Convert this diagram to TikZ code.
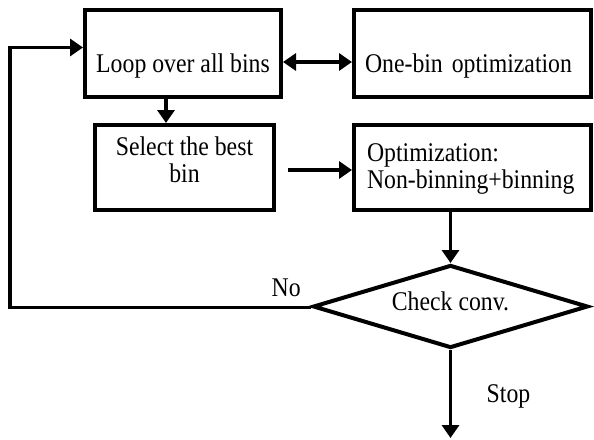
\documentclass[tikz,border=0pt]{standalone}
\usepackage{fontspec}
\setmainfont{Liberation Serif}[FakeStretch=0.88]
\usetikzlibrary{arrows.meta,shapes.geometric}
\begin{document}
\begin{tikzpicture}[x=1pt,y=-1pt,
  every node/.style={font=\fontsize{27}{27}\selectfont,inner sep=0pt},
  stepbox/.style={draw,line width=4pt,rectangle},
  arr/.style={line width=3.5pt,-{Triangle[length=13pt,width=17pt]}},
  darr/.style={line width=3.5pt,{Triangle[length=13pt,width=17pt]}-{Triangle[length=13pt,width=17pt]}}]
\useasboundingbox (0,0) rectangle (594,439);

\node[stepbox,minimum width=196pt,minimum height=87pt,text height=37pt,text depth=0pt] (loop) at (183,53.5) {Loop over all bins};
\node[stepbox,minimum width=237pt,minimum height=87pt,text height=37pt,text depth=0pt,text width=215pt,align=left] (onebin) at (472.5,53.5) {One-bin optimization};
\node[stepbox,minimum width=179pt,minimum height=85pt,align=center,text depth=15pt] (select) at (184.5,167.5) {Select the best\\bin};
\node[stepbox,minimum width=237pt,minimum height=85pt,text width=211pt,align=left,text depth=30.5pt] (opt) at (472.5,167.5) {Optimization:\\Non-binning+binning};
\node[draw,diamond,line width=4pt,aspect=3.3,minimum width=275pt,minimum height=83pt,text height=7pt,text depth=0pt] (check) at (450.5,306.5) {Check conv.};

\node[anchor=base west] (no) at (271.5,296) {No};
\node[anchor=base west] (stop) at (486.5,402.5) {Stop};

\coordinate (s) at (288,170);
\coordinate (c) at (10,307.5);
\coordinate (e) at (450.5,438);

\draw[arr] ([xshift=-17pt]loop.south) -- ([xshift=-17pt]loop.south |- select.north);
\draw[darr] ([yshift=-8.5pt]loop.east) -- ([yshift=-8.5pt]onebin.west);
\draw[arr] (s) -- (s -| opt.west);
\draw[arr] (check.north |- opt.south) -- (check.north);
\draw[arr] (check.south) -- (e);
\draw[arr] ([yshift=-1pt]check.west) -- (c) |- ([yshift=6pt]loop.west);
\end{tikzpicture}
\end{document}
